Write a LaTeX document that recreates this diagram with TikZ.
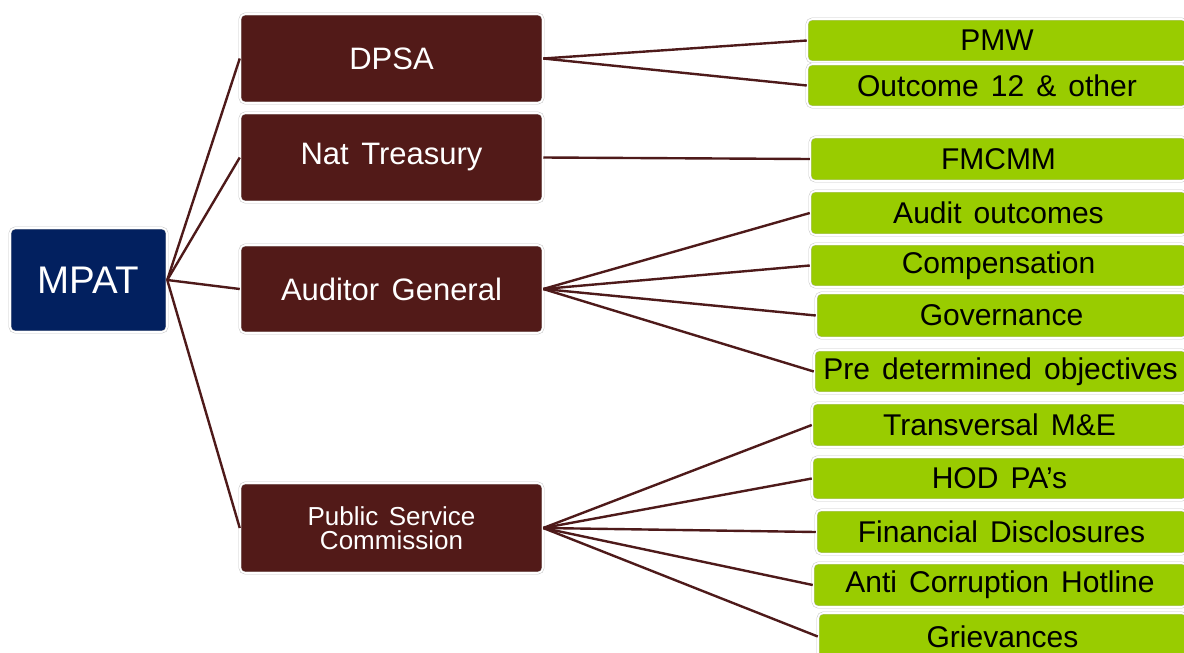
\documentclass[tikz,border=0pt]{standalone}
\usepackage{fontspec}
\setmainfont{Liberation Sans}[WordSpace=1.45]
\definecolor{brownfill}{HTML}{521A18}
\definecolor{navyfill}{HTML}{02205F}
\definecolor{greenfill}{HTML}{99CC00}
\definecolor{linkcol}{HTML}{4E1A1A}
\tikzset{
  base/.style={rectangle, rounded corners=5pt, draw=black!22, line width=0.5pt, double=white, double distance=1.6pt, inner sep=2pt, align=center},
  navybox/.style={base, fill=navyfill, text=white, font=\fontsize{38.5}{40}\selectfont},
  brownbox/.style={base, fill=brownfill, text=white, minimum width=303pt, font=\fontsize{31}{33}\selectfont},
  gbox/.style={base, fill=greenfill, text=black, font=\fontsize{30}{32}\selectfont},
  link/.style={draw=linkcol, line width=2.4pt}
}
\begin{document}
\begin{tikzpicture}[x=1pt,y=-1pt]
\clip (0,0) rectangle (1184,653);
\fill[white] (0,0) rectangle (1184,653);
% root
\node[navybox, minimum width=157pt, minimum height=104pt] (mpat) at (88.5,280) {MPAT};
% second level
\node[brownbox, minimum height=89pt] (dpsa) at (391.5,58.5) {DPSA};
\node[brownbox, minimum height=89pt] (nt) at (391.5,157.5) {Nat Treasury};
\node[brownbox, minimum height=88pt] (ag) at (391.5,289) {Auditor General};
\node[brownbox, minimum height=90pt, font=\fontsize{26}{24}\selectfont] (psc) at (391.5,528) {Public Service\\Commission};
% third level
\node[gbox, minimum width=380pt, minimum height=43pt] (pmw) at (997,40.5) {PMW};
\node[gbox, minimum width=380pt, minimum height=43pt] (out) at (997,85.5) {Outcome 12 \& other};
\node[gbox, minimum width=377pt, minimum height=44pt] (fm) at (998.5,159) {FMCMM};
\node[gbox, minimum width=377pt, minimum height=44pt] (aud) at (998.5,213) {Audit outcomes};
\node[gbox, minimum width=377pt, minimum height=43pt] (comp) at (998.5,265.5) {Compensation};
\node[gbox, minimum width=371pt, minimum height=45pt] (gov) at (1001.5,315.5) {Governance};
\node[gbox, minimum width=373pt, minimum height=43pt] (pre) at (1000.5,371.5) {Pre determined objectives};
\node[gbox, minimum width=375pt, minimum height=44pt] (tra) at (999.5,425) {Transversal M\&E};
\node[gbox, minimum width=375pt, minimum height=43pt] (hod) at (999.5,478.5) {HOD PA’s};
\node[gbox, minimum width=371pt, minimum height=44pt] (fin) at (1001.5,532) {Financial Disclosures};
\node[gbox, minimum width=374pt, minimum height=44pt] (anti) at (1000,585) {Anti Corruption Hotline};
\node[gbox, minimum width=369pt, minimum height=47pt] (gri) at (1002.5,636.5) {Grievances};
% connectors
\foreach \t in {dpsa,nt,ag,psc} \draw[link] (mpat.east) -- (\t.west);
\foreach \t in {pmw,out} \draw[link] (dpsa.east) -- (\t.west);
\draw[link] (nt.east) -- (fm.west);
\foreach \t in {aud,comp,gov,pre} \draw[link] (ag.east) -- (\t.west);
\foreach \t in {tra,hod,fin,anti,gri} \draw[link] (psc.east) -- (\t.west);
\end{tikzpicture}
\end{document}
